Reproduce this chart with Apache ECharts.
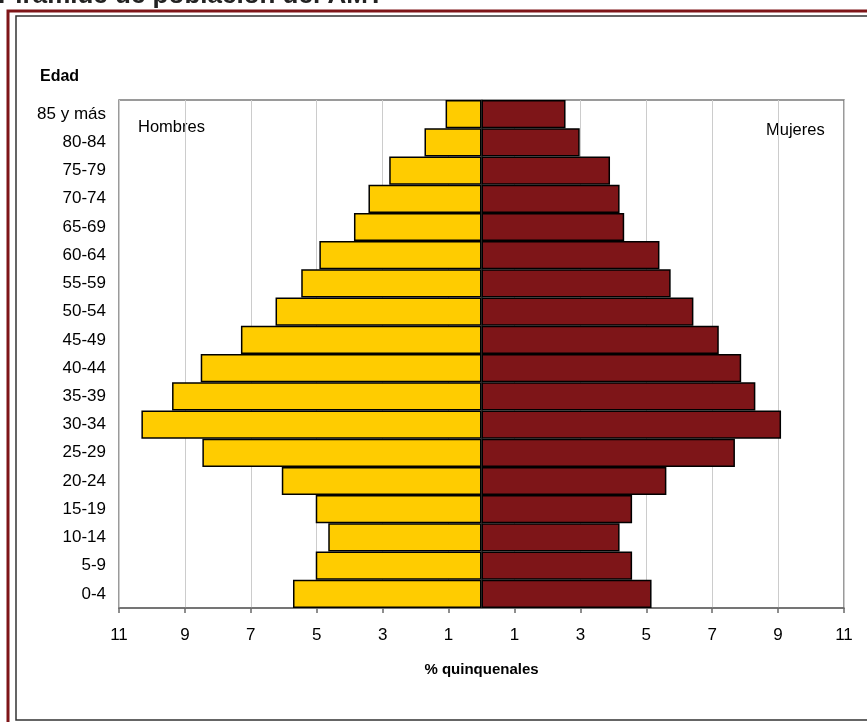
<!DOCTYPE html>
<html>
<head>
<meta charset="utf-8">
<script src="https://cdn.jsdelivr.net/npm/echarts@6/dist/echarts.min.js"></script>
<style>
  html, body { margin: 0; padding: 0; background: #fff; }
  #chart { width: 867px; height: 722px; }
</style>
</head>
<body>
<div id="chart"></div>
<script>
// age groups, bottom to top
const ageGroups = ['0-4', '5-9', '10-14', '15-19', '20-24', '25-29', '30-34', '35-39', '40-44',
  '45-49', '50-54', '55-59', '60-64', '65-69', '70-74', '75-79', '80-84', '85 y más']

// % of population per group
const hombres = [5.72, 5.03, 4.65, 5.03, 6.06, 8.47, 10.32, 9.39, 8.52, 7.30, 6.25, 5.47, 4.92, 3.87, 3.43, 2.80, 1.73, 1.09]
const mujeres = [5.16, 4.57, 4.19, 4.57, 5.61, 7.69, 9.09, 8.31, 7.88, 7.20, 6.43, 5.74, 5.40, 4.33, 4.19, 3.90, 2.98, 2.55]

const xMin = -11
const xMax = 11
const xStep = 2

const font = '"Liberation Sans", Arial, sans-serif'

const chart = echarts.init(document.getElementById('chart'))

chart.setOption({
  backgroundColor: '#fff',
  animation: false,
  grid: {
    left: 119,
    right: 23,
    top: 100,
    bottom: 114,
    show: true,
    backgroundColor: '#fff',
    borderColor: '#7a7a7a',
    borderWidth: 1.5,
  },
  xAxis: {
    type: 'value',
    min: xMin,
    max: xMax,
    interval: xStep,
    name: '% quinquenales',
    nameLocation: 'middle',
    nameGap: 54,
    nameTextStyle: { color: '#000', fontSize: 15, fontWeight: 'bold', fontFamily: font },
    axisLine: { show: true, lineStyle: { color: '#6a6a6a', width: 1.5 } },
    axisTick: { show: true, length: 5, lineStyle: { color: '#6a6a6a', width: 1.5 } },
    axisLabel: {
      color: '#000',
      fontSize: 17,
      fontFamily: font,
      margin: 19,
      formatter: (v) => Math.abs(v),
    },
    splitLine: { show: true, lineStyle: { color: '#cccccc', width: 1 } },
  },
  yAxis: {
    type: 'category',
    data: ageGroups,
    axisLine: { show: true, lineStyle: { color: '#6a6a6a', width: 1.5 } },
    axisTick: { show: false },
    axisLabel: { color: '#000', fontSize: 17, fontFamily: font, margin: 13 },
    splitLine: { show: false },
  },
  series: [
    {
      name: 'Hombres',
      type: 'bar',
      stack: 'pyr',
      barWidth: '100%',
      data: hombres.map((v) => -v),
      itemStyle: { color: '#FFCC00', borderColor: '#000', borderWidth: 1.5 },
    },
    {
      name: 'Mujeres',
      type: 'bar',
      stack: 'pyr',
      barWidth: '100%',
      data: mujeres,
      itemStyle: { color: '#7E1518', borderColor: '#000', borderWidth: 1.5 },
    },
  ],
  graphic: [
    {
      type: 'rect',
      shape: { x: 8, y: 11, width: 950, height: 900 },
      style: { fill: 'none', stroke: '#7E1518', lineWidth: 3 },
      silent: true,
    },
    {
      type: 'rect',
      shape: { x: 16, y: 16, width: 950, height: 704 },
      style: { fill: 'none', stroke: '#333', lineWidth: 1.5 },
      silent: true,
    },
    {
      type: 'text',
      left: -2,
      top: -17,
      style: { text: 'Pirámide de población del AMT', fill: '#222', font: 'bold 26px ' + font },
      silent: true,
    },
    {
      type: 'text',
      left: 40,
      top: 69,
      style: { text: 'Edad', fill: '#000', font: 'bold 16px ' + font },
    },
    {
      type: 'text',
      left: 138,
      top: 119,
      style: { text: 'Hombres', fill: '#000', font: '16.5px ' + font },
    },
    {
      type: 'text',
      left: 766,
      top: 122,
      style: { text: 'Mujeres', fill: '#000', font: '16.5px ' + font },
    },
  ],
})
</script>
</body>
</html>
